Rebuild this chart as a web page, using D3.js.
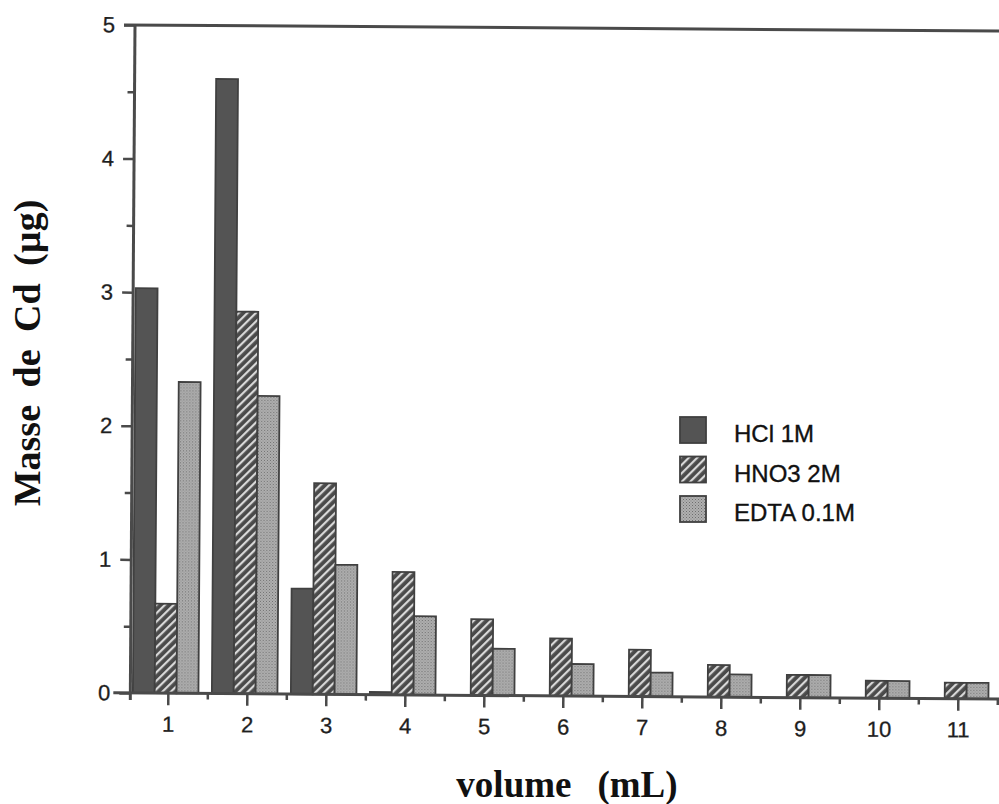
<!DOCTYPE html>
<html>
<head>
<meta charset="utf-8">
<script src="https://cdn.jsdelivr.net/npm/d3@7"></script>
<style>
  html, body { margin: 0; padding: 0; background: #fff; }
  svg { display: block; }
</style>
</head>
<body>
<svg id="chart" width="999" height="804"></svg>
<script>
// Mass of Cd recovered per collected volume, for three eluents
const volumes = ["1", "2", "3", "4", "5", "6", "7", "8", "9", "10", "11"];
const hcl  = [3.03, 4.60, 0.79, 0.02, 0, 0, 0, 0, 0, 0, 0];
const hno3 = [0.67, 2.86, 1.58, 0.92, 0.57, 0.43, 0.35, 0.24, 0.17, 0.13, 0.12];
const edta = [2.33, 2.23, 0.97, 0.59, 0.35, 0.24, 0.18, 0.17, 0.17, 0.13, 0.12];
const seriesNames = ["HCl 1M", "HNO3 2M", "EDTA 0.1M"];
const yTicks = [0, 1, 2, 3, 4, 5];
const yMinorTicks = [0.5, 1.5, 2.5, 3.5, 4.5];

const seriesValues = [hcl, hno3, edta];
const fills = ["url(#solid)", "url(#hatch)", "url(#stipple)"];

const svg = d3.select("#chart");
const defs = svg.append("defs");

// dark solid fill
defs.append("pattern").attr("id", "solid")
  .attr("patternUnits", "userSpaceOnUse").attr("width", 4).attr("height", 4)
  .append("rect").attr("width", 4).attr("height", 4).attr("fill", "#545454");

// dark ground with light diagonal stripes
const hatch = defs.append("pattern").attr("id", "hatch")
  .attr("patternUnits", "userSpaceOnUse").attr("width", 6).attr("height", 6)
  .attr("patternTransform", "rotate(45)");
hatch.append("rect").attr("width", 6).attr("height", 6).attr("fill", "#4a4a4a");
hatch.append("rect").attr("x", 0).attr("width", 2.2).attr("height", 6).attr("fill", "#d8d8d8");

// light stippled fill
const stip = defs.append("pattern").attr("id", "stipple")
  .attr("patternUnits", "userSpaceOnUse").attr("width", 3).attr("height", 3);
stip.append("rect").attr("width", 3).attr("height", 3).attr("fill", "#b0b0b0");
stip.append("rect").attr("width", 1).attr("height", 1).attr("fill", "#6e6e6e");
stip.append("rect").attr("x", 1.5).attr("y", 1.5).attr("width", 1).attr("height", 1).attr("fill", "#808080");

const axisColor = "#4a4a4a";
const sansFont = "Liberation Sans, Arial, sans-serif";
const serifFont = "Liberation Serif, Times New Roman, serif";

// plot frame, slightly turned as printed
const plot = svg.append("g").attr("transform", "rotate(0.4, 135, 25)");

const y = d3.scaleLinear().domain([0, 5]).range([693, 25]);
const xRange = [133.5, 1002.5];
const xAxisScale = d3.scaleBand().domain(volumes).range(xRange);
const x0 = d3.scaleBand().domain(volumes).range(xRange)
  .paddingInner(0.17).paddingOuter(0.085).align(0.3);
const x1 = d3.scaleBand().domain(seriesNames).range([0, x0.bandwidth()]);

// bars
const rows = [];
volumes.forEach((v, i) => {
  seriesNames.forEach((s, j) => {
    const val = seriesValues[j][i];
    if (val > 0) rows.push({ v, s, j, val });
  });
});

plot.append("g").selectAll("rect").data(rows).join("rect")
  .attr("x", d => x0(d.v) + x1(d.s))
  .attr("y", d => y(d.val))
  .attr("width", x1.bandwidth())
  .attr("height", d => y(0) - y(d.val))
  .attr("fill", d => fills[d.j])
  .attr("stroke", "#404040")
  .attr("stroke-width", 1.8);

// left axis with major and minor ticks
const yAxis = d3.axisLeft(y).tickValues(yTicks).tickSize(11).tickPadding(9)
  .tickFormat(d3.format("d"));
const gy = plot.append("g").attr("transform", "translate(135,0)").call(yAxis);
gy.select(".domain").remove();
gy.selectAll(".tick line").attr("stroke", axisColor).attr("stroke-width", 2.5);
gy.selectAll(".tick text")
  .attr("font-family", sansFont)
  .attr("font-size", 22).attr("fill", "#1e1e1e")
  .attr("stroke", "#1e1e1e").attr("stroke-width", 0.3);

plot.append("g").attr("transform", "translate(135,0)")
  .call(d3.axisLeft(y).tickValues(yMinorTicks).tickSize(7).tickFormat(""))
  .call(g => g.select(".domain").remove())
  .selectAll(".tick line").attr("stroke", axisColor).attr("stroke-width", 2.5);

// bottom axis: labelled ticks at category centres, short ticks between
const xAxis = d3.axisBottom(xAxisScale).tickSize(12).tickPadding(11);
const gx = plot.append("g").attr("transform", `translate(0,${y(0)})`).call(xAxis);
gx.select(".domain").remove();
gx.selectAll(".tick line").attr("stroke", axisColor).attr("stroke-width", 2.5);
gx.selectAll(".tick text")
  .attr("font-family", sansFont)
  .attr("font-size", 22).attr("fill", "#1e1e1e")
  .attr("stroke", "#1e1e1e").attr("stroke-width", 0.3);

const boundaries = d3.range(volumes.length + 1).map(k => xAxisScale.range()[0] + k * xAxisScale.step());
plot.append("g").selectAll("line").data(boundaries.slice(1)).join("line")
  .attr("x1", d => d).attr("x2", d => d)
  .attr("y1", y(0)).attr("y2", y(0) + 6)
  .attr("stroke", axisColor).attr("stroke-width", 2.5);

// axis lines and top border
plot.append("line").attr("x1", 135).attr("x2", 135).attr("y1", y(5) - 1).attr("y2", y(0) + 7)
  .attr("stroke", axisColor).attr("stroke-width", 3);
plot.append("line").attr("x1", 118).attr("x2", 1012).attr("y1", y(0)).attr("y2", y(0))
  .attr("stroke", axisColor).attr("stroke-width", 3);
plot.append("line").attr("x1", 124).attr("x2", 1012).attr("y1", y(5)).attr("y2", y(5))
  .attr("stroke", axisColor).attr("stroke-width", 3);

// legend
const legend = svg.append("g").attr("transform", "translate(680,417)");
const item = legend.selectAll("g").data(seriesNames).join("g")
  .attr("transform", (d, i) => `translate(0,${i * 39.5})`);
item.append("rect").attr("width", 26).attr("height", 26)
  .attr("fill", (d, i) => fills[i]).attr("stroke", "#404040").attr("stroke-width", 1.8);
item.append("text").attr("x", 54).attr("y", 25)
  .attr("font-family", sansFont)
  .attr("font-size", 24).attr("fill", "#111")
  .attr("stroke", "#111").attr("stroke-width", 0.35)
  .text(d => d);

// axis titles
svg.append("text")
  .attr("transform", "translate(40,353) rotate(-90)")
  .attr("text-anchor", "middle")
  .attr("font-family", serifFont)
  .attr("font-weight", "bold").attr("font-size", 38).attr("fill", "#111")
  .attr("word-spacing", 8)
  .text("Masse de Cd (µg)");

const xt = svg.append("text")
  .attr("x", 567).attr("y", 797)
  .attr("text-anchor", "middle")
  .attr("font-family", serifFont)
  .attr("font-weight", "bold").attr("font-size", 37).attr("fill", "#111");
xt.append("tspan").text("volume");
xt.append("tspan").attr("dx", 26).text("(mL)");
</script>
</body>
</html>
